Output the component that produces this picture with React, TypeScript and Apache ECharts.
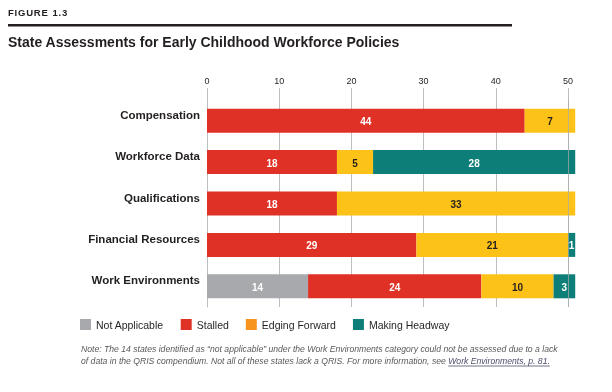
import React, { useEffect, useRef } from "react";
import * as echarts from "echarts";

const categories = ["Compensation", "Workforce Data", "Qualifications", "Financial Resources", "Work Environments"];
const notApplicable = [0, 0, 0, 0, 14];
const stalled = [44, 18, 18, 29, 24];
const edgingForward = [7, 5, 33, 21, 10];
const makingHeadway = [0, 28, 0, 1, 3];

const FONT = "'Liberation Sans', Arial, sans-serif";
const DARK = "#231F20";
const GRID = "#BCBEC0";

const noteLine1 = "Note: The 14 states identified as \u201cnot applicable\u201d under the Work Environments category could not be assessed due to a lack";
const noteLine2a = "of data in the QRIS compendium. Not all of these states lack a QRIS. For more information, see ";
const noteLink = "Work Environments, p. 81.";

function measure(text: string, font: string): number {
  const c = document.createElement("canvas").getContext("2d");
  if (!c) return text.length * 4.5;
  c.font = font;
  return c.measureText(text).width;
}

export default function App() {
  const ref = useRef<HTMLDivElement>(null);
  useEffect(() => {
    if (!ref.current) return;
    const chart = echarts.init(ref.current, undefined, { renderer: "svg" });
    const noteSize = 8.65;
    const noteFont = `italic ${noteSize}px ${FONT}`;
    const w2a = measure(noteLine2a, noteFont);
    const wLink = measure(noteLink, noteFont);
    const noteX = 81;

    const mk = (name: string, data: number[], color: string, labelColor: string) => ({
      name,
      type: "bar",
      stack: "total",
      barWidth: 24,
      clip: false,
      data: data.map((v) => (v === 0 ? null : v)),
      itemStyle: { color },
      label: {
        show: true,
        position: "inside",
        color: labelColor,
        fontSize: 10,
        fontWeight: "bold",
        fontFamily: FONT,
        offset: [0, 1],
      },
    });

    const series: any[] = [
      mk("Not Applicable", notApplicable, "#A7A9AC", "#FFFFFF"),
      mk("Stalled", stalled, "#E03127", "#FFFFFF"),
      mk("Edging Forward", edgingForward, "#FDC218", DARK),
      mk("Making Headway", makingHeadway, "#0E7F78", "#FFFFFF"),
    ];
    series[3].markLine = {
      silent: true,
      symbol: "none",
      label: { show: false },
      lineStyle: { color: "rgba(170,172,175,0.7)", type: "solid", width: 1 },
      data: [{ xAxis: 50 }],
      z: 10,
    };

    chart.setOption({
      animation: false,
      grid: { left: 207, right: 44, top: 100, height: 207, containLabel: false },
      xAxis: {
        type: "value",
        position: "top",
        min: 0,
        max: 50,
        interval: 10,
        axisLine: { show: true, lineStyle: { color: "rgba(0,0,0,0)" } },
        axisTick: { show: true, length: 12, lineStyle: { color: GRID, width: 1 } },
        axisLabel: {
          fontSize: 9,
          color: DARK,
          fontFamily: FONT,
          margin: 15,
        },
        splitLine: { show: true, lineStyle: { color: GRID, width: 1 } },
      },
      yAxis: {
        type: "category",
        inverse: true,
        data: categories,
        axisLine: { show: true, lineStyle: { color: GRID, width: 1 } },
        axisTick: { show: false },
        axisLabel: {
          fontSize: 11.5,
          fontWeight: "bold",
          color: DARK,
          fontFamily: FONT,
          margin: 7,
          verticalAlign: "bottom",
        },
      },
      legend: {
        left: 75,
        top: 314,
        icon: "rect",
        itemWidth: 11,
        itemHeight: 11,
        itemGap: 17,
        textStyle: { fontSize: 10.5, color: DARK, fontFamily: FONT },
        data: [
          { name: "Not Applicable", itemStyle: { color: "#A7A9AC" } },
          { name: "Stalled", itemStyle: { color: "#E03127" } },
          { name: "Edging Forward", itemStyle: { color: "#F7941D" } },
          { name: "Making Headway", itemStyle: { color: "#0E7F78" } },
        ],
      },
      graphic: [
        {
          type: "text",
          left: 8,
          top: 7,
          style: {
            text: "F\u200aI\u200aG\u200aU\u200aR\u200aE\u2009 1\u200a.\u200a3",
            fontSize: 9.5,
            fontWeight: "bold",
            fill: DARK,
            fontFamily: FONT,
          },
        },
        {
          type: "rect",
          shape: { x: 8, y: 24, width: 504, height: 2.5 },
          style: { fill: DARK },
        },
        {
          type: "text",
          left: 8,
          top: 35,
          style: {
            text: "State Assessments for Early Childhood Workforce Policies",
            fontSize: 14,
            fontWeight: "bold",
            fill: DARK,
            fontFamily: FONT,
          },
        },
        {
          type: "text",
          x: noteX,
          y: 344,
          style: { text: noteLine1, fontSize: noteSize, fontStyle: "italic", fill: "#58595B", fontFamily: FONT },
        },
        {
          type: "text",
          x: noteX,
          y: 356,
          style: { text: noteLine2a, fontSize: noteSize, fontStyle: "italic", fill: "#58595B", fontFamily: FONT },
        },
        {
          type: "text",
          x: noteX + w2a,
          y: 356,
          style: { text: noteLink, fontSize: noteSize, fontStyle: "italic", fill: "#4B4F6B", fontFamily: FONT },
        },
        {
          type: "line",
          shape: { x1: noteX + w2a, y1: 366, x2: noteX + w2a + wLink, y2: 366 },
          style: { stroke: "#4B4F6B", lineWidth: 0.8 },
        },
      ],
      series,
    });
    return () => chart.dispose();
  }, []);
  return <div ref={ref} style={{ position: "fixed", left: 0, top: 0, width: 612, height: 392 }} />;
}
